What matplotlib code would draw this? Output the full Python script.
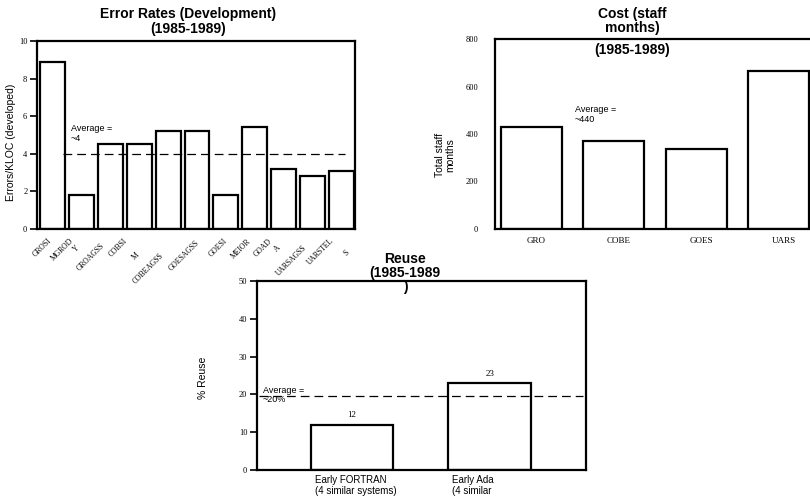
import matplotlib
matplotlib.use("Agg")
import matplotlib.pyplot as plt
from matplotlib.transforms import ScaledTranslation, blended_transform_factory

# error rates per project (errors per KLOC developed)
err_values = [8.9, 1.8, 4.5, 4.5, 5.2, 5.2, 1.8, 5.4, 3.2, 2.8, 3.1]
err_average = 4
err_labels = ["GROSI", "MGROD", "Y", "GROAGSS", "COBSI", "M", "COBEAGSS",
              "GOESAGSS", "GOESI", "MEIOR", "GOAD", "A", "UARSAGSS",
              "UARSTEL", "S"]

# cost in staff months
cost_names = ["GRO", "COBE", "GOES", "UARS"]
cost_values = [430, 372, 338, 667]

# reuse percentages
reuse_names = ["Early FORTRAN\n(4 similar systems)", "Early Ada\n(4 similar"]
reuse_values = [12, 23]
reuse_average = 19.5

# where the wrapped project labels end up under the first chart
lab_x = [-0.19, 0.57, 0.78, 1.64, 2.44, 2.85, 3.72, 4.93, 5.90, 6.73, 7.46,
         7.77, 8.67, 9.60, 10.12]
lab_y = [237, 237, 244, 242, 237, 251, 252, 239, 237, 237, 237, 244, 244,
         237, 249]

SANS = "Liberation Sans"
SERIF = "Liberation Serif"
W, H = 810, 501

fig = plt.figure(figsize=(8.1, 5.01), dpi=100)


def frame(ax):
    for s in ax.spines.values():
        s.set_linewidth(1.6)
        s.set_color("black")
    for lab in ax.get_yticklabels() + ax.get_xticklabels():
        lab.set_fontfamily(SERIF)


def ax_at(left, top, right, bottom):
    return fig.add_axes([left / W, 1 - bottom / H, (right - left) / W,
                         (bottom - top) / H])


# --- error rates ---
ax1 = ax_at(37, 41, 355, 229)
ax1.bar(range(len(err_values)), err_values, width=0.86, color="white",
        edgecolor="black", linewidth=1.6)
ax1.set_xlim(-0.54, 10.47)
ax1.set_ylim(0, 10)
ax1.set_yticks([0, 2, 4, 6, 8, 10])
ax1.set_xticks([])
ax1.tick_params(axis="y", length=5, width=1.2, pad=2, labelsize=6)
ax1.axhline(err_average, xmin=0.082, xmax=0.969, color="black", lw=0.9,
            dashes=(7, 4))
ax1.text(0.64, 5.6, "Average =\n~" + str(err_average), fontsize=6.5,
         family=SANS, va="top", ha="left", linespacing=1.2)
ax1.set_ylabel("Errors/KLOC (developed)", family=SANS, fontsize=7.5)
ax1.yaxis.set_label_coords(-0.066, 0.46)
tr = blended_transform_factory(ax1.transData, ax1.transAxes)
for s, x, y in zip(err_labels, lab_x, lab_y):
    ax1.text(x, -(y - 229) / 188, s, transform=tr, rotation=45,
             rotation_mode="anchor", ha="right", va="top", fontsize=5.5,
             family=SERIF)
frame(ax1)
fig.text(188 / W, 1 - 7 / H, "Error Rates (Development)\n(1985-1989)",
         ha="center", va="top", family=SANS, weight="bold", fontsize=10,
         linespacing=1.1)

# --- cost ---
ax2 = ax_at(495, 39, 815, 229)
ax2.bar(range(len(cost_values)), cost_values, width=0.74, color="white",
        edgecolor="black", linewidth=1.6)
ax2.set_xlim(-0.44, 3.44)
ax2.set_ylim(0, 800)
ax2.set_yticks([0, 200, 400, 600, 800])
ax2.set_xticks(range(len(cost_names)), cost_names)
ax2.tick_params(axis="y", length=0, pad=12, labelsize=6)
ax2.tick_params(axis="x", length=0, pad=6, labelsize=6.5)
off = ScaledTranslation(5 / 100, 0, fig.dpi_scale_trans)
for lab in ax2.get_xticklabels():
    lab.set_transform(lab.get_transform() + off)
ax2.text(0.53, 520, "Average =\n~440", fontsize=6.5, family=SANS,
         va="top", ha="left", linespacing=1.1)
ax2.set_ylabel("Total staff\nmonths", family=SANS, fontsize=7.5,
               linespacing=1.0)
ax2.yaxis.set_label_coords(-0.125, 0.39)
frame(ax2)
fig.text(632 / W, 1 - 7 / H, "Cost (staff\nmonths)", ha="center", va="top",
         family=SANS, weight="bold", fontsize=10, linespacing=1.0)
fig.text(632 / W, 1 - 43 / H, "(1985-1989)", ha="center", va="top",
         family=SANS, weight="bold", fontsize=10)

# --- reuse ---
ax3 = ax_at(257, 281, 586, 470)
ax3.bar(range(len(reuse_values)), reuse_values, width=0.6, color="white",
        edgecolor="black", linewidth=1.6)
ax3.set_xlim(-0.69, 1.70)
ax3.set_ylim(0, 50)
ax3.set_yticks([0, 10, 20, 30, 40, 50])
ax3.set_xticks([])
ax3.tick_params(axis="y", length=5, width=1.2, pad=2, labelsize=6)
ax3.axhline(reuse_average, xmin=0.006, xmax=0.99, color="black", lw=0.9,
            dashes=(7, 4))
for i, v in enumerate(reuse_values):
    ax3.annotate(str(v), (i, v), xytext=(0, 4), textcoords="offset points",
                 ha="center", va="bottom", fontsize=6.5, family=SERIF)
tr3 = blended_transform_factory(ax3.transData, ax3.transAxes)
for i, name in enumerate(reuse_names):
    ax3.text(i - 0.27, -0.025, name, transform=tr3, ha="left", va="top",
             fontsize=7, family=SANS, linespacing=1.1)
ax3.text(-0.647, 22.3, "Average =\n~20%", fontsize=6.5, family=SANS,
         va="top", ha="left", linespacing=1.0)
ax3.set_ylabel("% Reuse", family=SANS, fontsize=7.5)
ax3.yaxis.set_label_coords(-0.149, 0.487)
frame(ax3)
fig.text(405 / W, 1 - 252 / H, "Reuse\n(1985-1989\n)", ha="center",
         va="top", family=SANS, weight="bold", fontsize=10, linespacing=1.0)

fig.savefig("out.png", dpi=100)
